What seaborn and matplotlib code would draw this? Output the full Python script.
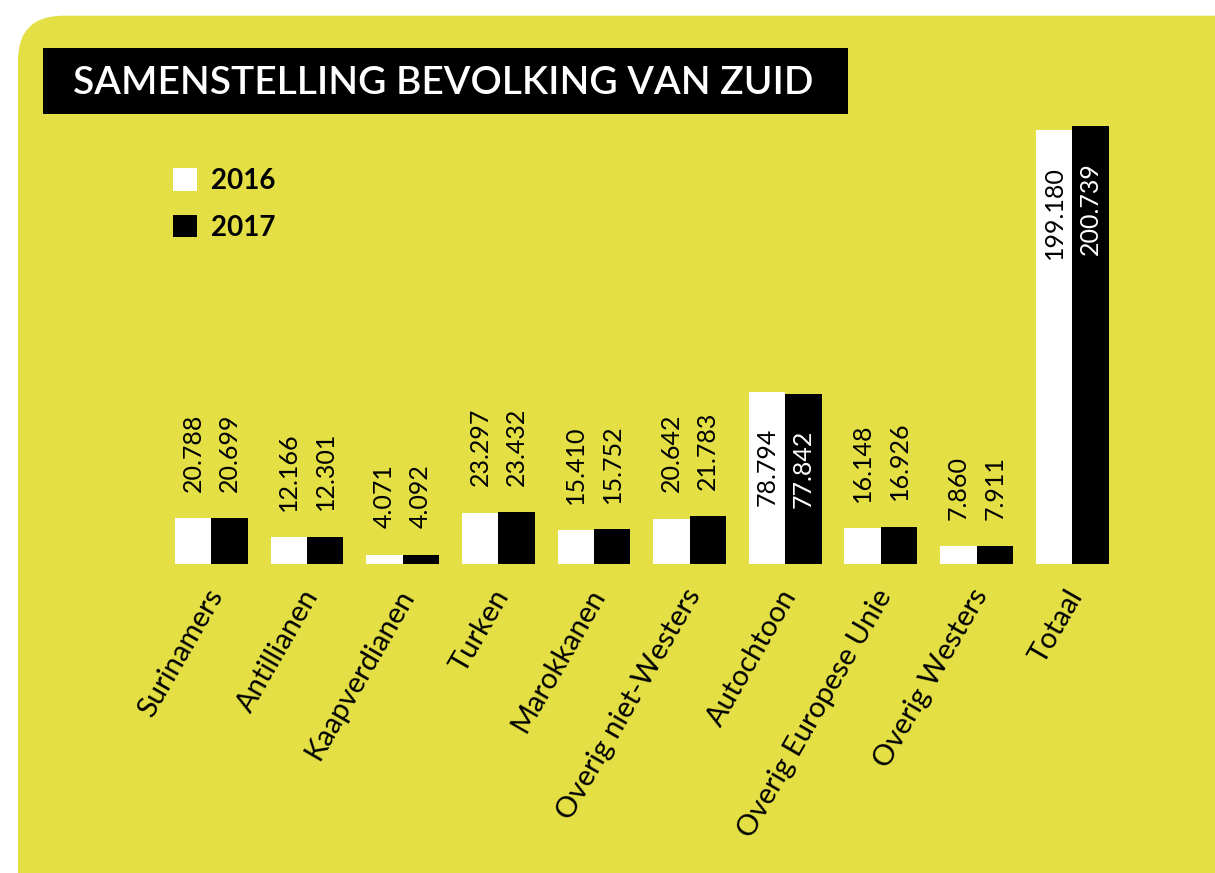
import matplotlib
matplotlib.use("Agg")
import matplotlib.pyplot as plt
from matplotlib.patches import FancyBboxPatch, Rectangle
from matplotlib.transforms import ScaledTranslation
import pandas as pd
import seaborn as sns

groepen = ['Surinamers', 'Antillianen', 'Kaapverdianen', 'Turken', 'Marokkanen',
           'Overig niet-Westers', 'Autochtoon', 'Overig Europese Unie',
           'Overig Westers', 'Totaal']
jaren = ['2016', '2017']
aantal_2016 = [20.788, 12.166, 4.071, 23.297, 15.410, 20.642, 78.794, 16.148, 7.860, 199.180]
aantal_2017 = [20.699, 12.301, 4.092, 23.432, 15.752, 21.783, 77.842, 16.926, 7.911, 200.739]
titel = 'SAMENSTELLING BEVOLKING VAN ZUID'

df = pd.DataFrame({
    'groep': groepen * 2,
    'jaar': [jaren[0]] * len(groepen) + [jaren[1]] * len(groepen),
    'aantal': aantal_2016 + aantal_2017,
})

geel = '#E3DF45'
sns.set_theme(style='white')
plt.rcParams['font.family'] = ['Lato', 'DejaVu Sans']
plt.rcParams['text.color'] = 'black'

fig = plt.figure(figsize=(12.15, 8.73), dpi=100)
fig.patch.set_facecolor('white')

# yellow panel with rounded corner (inches)
paneel = FancyBboxPatch((0.18, -0.6), 12.6, 9.173, boxstyle='round,pad=0,rounding_size=0.45',
                        transform=fig.dpi_scale_trans, facecolor=geel, edgecolor='none', zorder=-2)
fig.patches.append(paneel)
# title bar
fig.patches.append(Rectangle((0.427, 7.587), 8.053, 0.666, transform=fig.dpi_scale_trans,
                             facecolor='black', edgecolor='none', zorder=-1))
fig.text(0.73, 7.785, titel, transform=fig.dpi_scale_trans, color='white',
         fontsize=28, fontweight='semibold', va='baseline', ha='left', zorder=2)

ax = fig.add_axes([163.4 / 1215, 1 - 563.5 / 873, 956.6 / 1215, 446.5 / 873])
ax.set_facecolor('none')
ax.set_zorder(3)

sns.barplot(data=df, x='groep', y='aantal', hue='jaar', palette=['white', 'black'],
            width=0.76, linewidth=0, saturation=1, ax=ax)

ax.set_ylim(0, 205)
ax.set_xlim(-0.5, len(groepen) - 0.5)
sns.despine(ax=ax, left=True, bottom=True)
ax.set_yticks([])
ax.set_xlabel('')
ax.set_ylabel('')
ax.tick_params(axis='x', length=0, pad=20)
ax.set_xticks(range(len(groepen)))
ax.set_xticklabels(groepen, rotation=60, ha='right', va='center',
                   rotation_mode='anchor', fontsize=21, color='black')
for lab in ax.get_xticklabels():
    lab.set_transform(lab.get_transform() + ScaledTranslation(5 / 100, 0, fig.dpi_scale_trans))

# value labels: above small bars, inside the big ones
for i, cont in enumerate(ax.containers):
    for bar in cont:
        h = bar.get_height()
        x = bar.get_x() + bar.get_width() / 2
        tekst = f'{h:.3f}'
        if h > 50:
            kleur = 'black' if i == 0 else 'white'
            ax.annotate(tekst, (x, h), xytext=(0, -26), textcoords='offset points',
                        rotation=90, ha='center', va='top', fontsize=18, color=kleur)
        else:
            ax.annotate(tekst, (x, h), xytext=(0, 19), textcoords='offset points',
                        rotation=90, ha='center', va='bottom', fontsize=18, color='black')

sns.move_legend(ax, 'upper left', bbox_to_anchor=(173 / 1215, 1 - 168 / 873),
                bbox_transform=fig.transFigure, frameon=False, title=None,
                fontsize=20, handlelength=0.86, handleheight=0.86, handletextpad=0.5,
                labelspacing=0.75, borderpad=0, borderaxespad=0)
for t in ax.get_legend().get_texts():
    t.set_fontweight('bold')
    t.set_color('black')

fig.savefig('out.png', dpi=100, facecolor='white')
